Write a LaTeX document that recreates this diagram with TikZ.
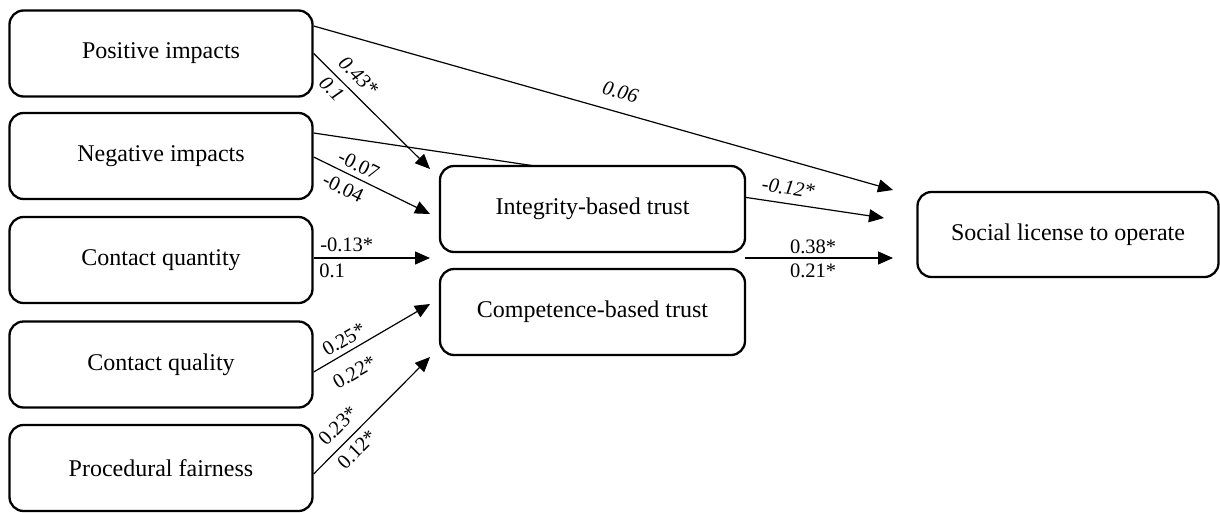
\documentclass[tikz,border=0pt]{standalone}
\usepackage{fontspec}
\setmainfont{Liberation Serif}
\usetikzlibrary{arrows.meta,backgrounds}
\begin{document}
\begin{tikzpicture}[x=1pt,y=-1pt,
  box/.style={draw,line width=2.3pt,rounded corners=14pt,fill=white,
    minimum width=303pt,minimum height=86pt,inner sep=0pt,
    font=\fontsize{24}{28}\selectfont},
  path/.style={line width=1.2pt,-{Triangle[length=15pt,width=13pt]}},
  lbl/.style={inner sep=0pt,text height=14pt,text depth=0pt,
    font=\fontsize{20.5}{24}\selectfont},
  ilbl/.style={lbl,font=\fontsize{20.5}{24}\selectfont\itshape}]
\useasboundingbox (0,0) rectangle (1220,512);

% predictors
\node[box] (pi)  at (161,53.5)  {Positive impacts};
\node[box] (ni)  at (161,156)   {Negative impacts};
\node[box] (cqn) at (161,260)   {Contact quantity};
\node[box] (cql) at (161,364.5) {Contact quality};
\node[box] (pf)  at (161,468)   {Procedural fairness};

% mediators and outcome
\node[box,minimum width=305pt] (int)  at (592.5,209) {Integrity-based trust};
\node[box,minimum width=305pt] (comp) at (592.5,312) {Competence-based trust};
\node[box,minimum width=301pt,minimum height=85pt] (slo) at (1068,234.5) {Social license to operate};

% arrow tips
\coordinate (tpi)  at (430,169);
\coordinate (tni)  at (430,214);
\coordinate (tcqn) at (430,258);
\coordinate (tcql) at (430,304);
\coordinate (tpf)  at (430,357);
\coordinate (spi)  at (893,190);
\coordinate (sni)  at (884,218);
\coordinate (str)  at (893,258);
\coordinate (mtr)  at (745,258);

% direct path from negative impacts, running behind the integrity box
\begin{scope}[on background layer]
\draw[path] ([yshift=23pt]ni.east) -- (sni)
  node[ilbl,pos=0.828,sloped,above=8.4pt] {-0.12*};
\end{scope}

\draw[path] ([yshift=27.5pt]pi.east) -- (spi)
  node[ilbl,pos=0.52,sloped,above=13pt] {0.06};
\draw[path] (pi.east) -- (tpi)
  node[ilbl,pos=0.29,sloped,above=8.5pt] {0.43*}
  node[ilbl,pos=0.23,sloped,below=4.5pt] {0.1};
\draw[path] ([yshift=-1pt]ni.east) -- (tni)
  node[lbl,pos=0.34,sloped,above=5.5pt] {-0.07}
  node[lbl,pos=0.31,sloped,below=7pt] {-0.04};
\draw[path] ([yshift=2pt]cqn.east) -- (tcqn)
  node[lbl,pos=0,anchor=south west,shift={(6pt,6pt)}] {-0.13*}
  node[lbl,pos=0,anchor=north west,shift={(5pt,-5pt)}] {0.1};
\draw[path] ([yshift=-7.5pt]cql.east) -- (tcql)
  node[lbl,pos=0.315,sloped,above=5.5pt] {0.25*}
  node[lbl,pos=0.26,sloped,below=13pt] {0.22*};
\draw[path] ([yshift=-6pt]pf.east) -- (tpf)
  node[lbl,pos=0.31,sloped,above=9.5pt] {0.23*}
  node[lbl,pos=0.29,sloped,below=5.5pt] {0.12*};
\draw[path] (mtr) -- (str)
  node[lbl,pos=0.46,above=3.5pt] {0.38*}
  node[lbl,pos=0.46,below=5pt] {0.21*};
\end{tikzpicture}
\end{document}
